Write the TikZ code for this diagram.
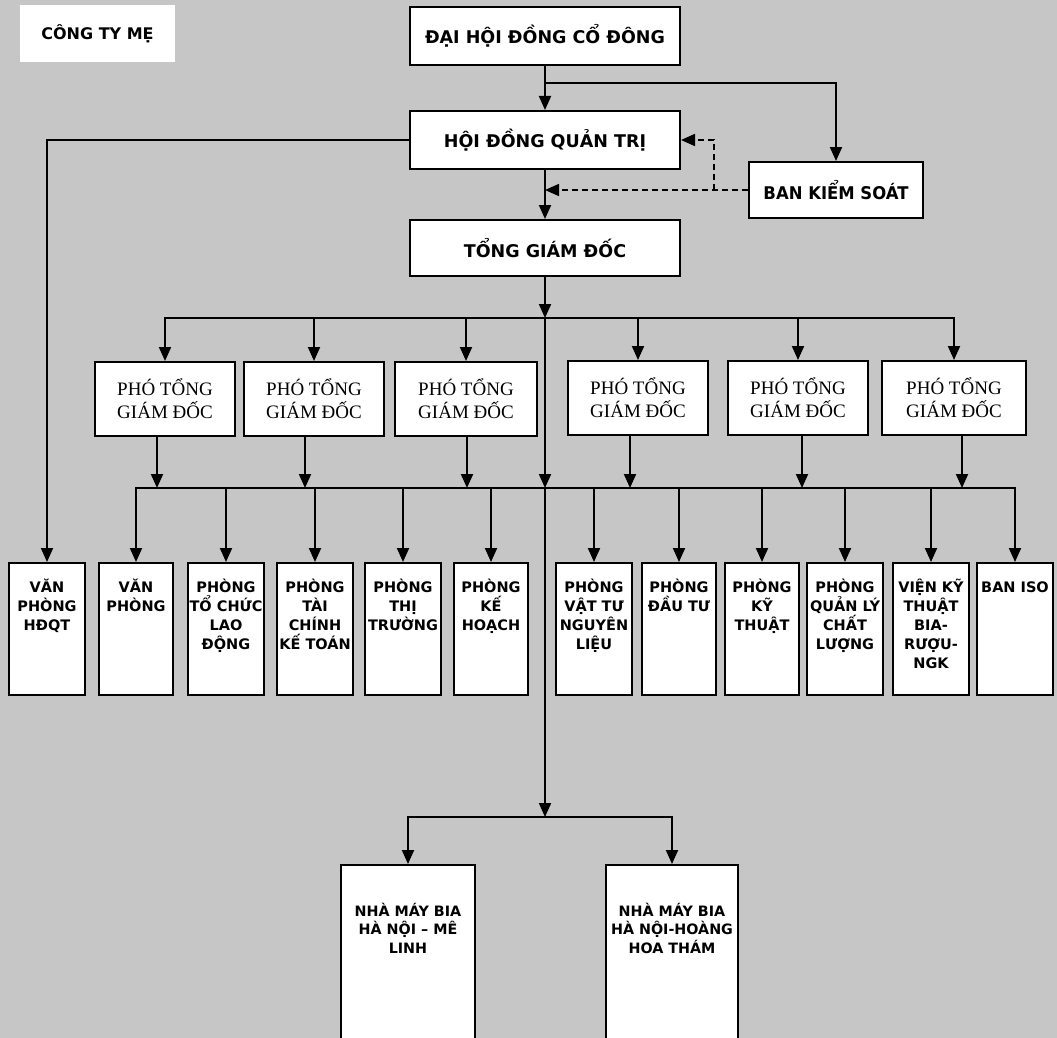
\documentclass[tikz,border=0pt]{standalone}
\usepackage{fontspec}
\setmainfont{Liberation Serif}
\newfontfamily\dvs{DejaVu Sans}
\newfontfamily\dvsn[FakeStretch=0.94]{DejaVu Sans}
\usetikzlibrary{arrows.meta}
\definecolor{bgcol}{RGB}{198,198,198}
\tikzset{
  box/.style={draw=black, line width=2pt, fill=white, inner sep=0pt},
  topbox/.style={box, font=\dvs\bfseries\fontsize{17.5}{21}\selectfont},
  ptgd/.style={box, align=center, minimum width=140pt, minimum height=74pt, font=\fontsize{19}{23}\selectfont},
  deptbox/.style={box, minimum width=76pt, minimum height=132pt},
  depttext/.style={align=center, inner sep=0pt, anchor=north, font=\dvs\bfseries\fontsize{14.5}{19}\selectfont},
  facbox/.style={box, minimum width=132pt, minimum height=180pt},
  factext/.style={align=center, inner sep=0pt, anchor=north, font=\dvs\bfseries\fontsize{14.3}{18.5}\selectfont},
  conn/.style={line width=2pt, line cap=rect},
  tip/.style={-{Triangle[width=12pt,length=14pt]}},
  arr/.style={line width=2pt, tip},
  dashln/.style={line width=1.6pt, dash pattern=on 6pt off 4pt, tip},
}
\begin{document}
\begin{tikzpicture}[x=1pt,y=-1pt]
\useasboundingbox (0,0) rectangle (1057,1038);
\clip (0,0) rectangle (1057,1038);
\fill[bgcol] (0,0) rectangle (1057,1038);

% title
\node[fill=white, inner sep=0pt, minimum width=155pt, minimum height=57pt,
      font=\dvs\bfseries\fontsize{16}{19}\selectfont] (cty) at (97.5,33.5) {CÔNG TY MẸ};

% top boxes
\node[topbox, minimum width=270pt, minimum height=58pt] (dh) at (545,36) {ĐẠI HỘI ĐỒNG CỔ ĐÔNG};
\node[topbox, minimum width=270pt, minimum height=58pt] (hdqt) at (545,140) {HỘI ĐỒNG QUẢN TRỊ};
\node[topbox, minimum width=270pt, minimum height=56pt] (tgd) at (545,248) {TỔNG GIÁM ĐỐC};
\node[box, minimum width=174pt, minimum height=56pt, font=\dvsn\bfseries\fontsize{17.5}{21}\selectfont] (bks) at (836,190) {BAN KIỂM SOÁT};

% deputy directors
\node[ptgd] (p1) at (165,399) {PHÓ TỔNG\\GIÁM ĐỐC};
\node[ptgd] (p2) at (314,399) {PHÓ TỔNG\\GIÁM ĐỐC};
\node[ptgd, minimum width=142pt] (p3) at (466,399) {PHÓ TỔNG\\GIÁM ĐỐC};
\node[ptgd] (p4) at (638,398) {PHÓ TỔNG\\GIÁM ĐỐC};
\node[ptgd] (p5) at (798,398) {PHÓ TỔNG\\GIÁM ĐỐC};
\node[ptgd, minimum width=144pt] (p6) at (954,398) {PHÓ TỔNG\\GIÁM ĐỐC};

% departments
\node[deptbox] (d1) at (47,629) {};
\node[deptbox, minimum width=74pt] (d2) at (136,629) {};
\node[deptbox] (d3) at (226,629) {};
\node[deptbox] (d4) at (315,629) {};
\node[deptbox] (d5) at (403,629) {};
\node[deptbox, minimum width=74pt] (d6) at (491,629) {};
\node[deptbox] (d7) at (594,629) {};
\node[deptbox, minimum width=74pt] (d8) at (679,629) {};
\node[deptbox, minimum width=74pt] (d9) at (762,629) {};
\node[deptbox] (d10) at (845,629) {};
\node[deptbox] (d11) at (931,629) {};
\node[deptbox] (d12) at (1015,629) {};

\node[depttext] (t1) at (47,579) {VĂN\\PHÒNG\\HĐQT};
\node[depttext] (t2) at (136,579) {VĂN\\PHÒNG};
\node[depttext] (t3) at (226,579) {PHÒNG\\TỔ CHỨC\\LAO\\ĐỘNG};
\node[depttext] (t4) at (315,579) {PHÒNG\\TÀI\\CHÍNH\\KẾ TOÁN};
\node[depttext] (t5) at (403,579) {PHÒNG\\THỊ\\TRƯỜNG};
\node[depttext] (t6) at (491,579) {PHÒNG\\KẾ\\HOẠCH};
\node[depttext] (t7) at (594,579) {PHÒNG\\VẬT TƯ\\NGUYÊN\\LIỆU};
\node[depttext] (t8) at (679,579) {PHÒNG\\ĐẦU TƯ};
\node[depttext] (t9) at (762,579) {PHÒNG\\KỸ\\THUẬT};
\node[depttext] (t10) at (845,579) {PHÒNG\\QUẢN LÝ\\CHẤT\\LƯỢNG};
\node[depttext] (t11) at (931,579) {VIỆN KỸ\\THUẬT\\BIA-\\RƯỢU-\\NGK};
\node[depttext] (t12) at (1015,579) {\vphantom{Ò}BAN ISO};

% factories
\node[facbox, minimum width=134pt] (f1) at (408,955) {};
\node[facbox] (f2) at (672,955) {};
\node[factext] (ft1) at (408,903) {NHÀ MÁY BIA\\HÀ NỘI – MÊ\\LINH};
\node[factext] (ft2) at (672,903) {NHÀ MÁY BIA\\HÀ NỘI-HOÀNG\\HOA THÁM};

% bus coordinates
\coordinate (k) at (545,83);
\coordinate (b1) at (545,318);
\coordinate (b2) at (545,488);
\coordinate (b3) at (545,817);
\coordinate (dv) at (714,190);

% top connectors
\draw[arr] (dh.south) -- (hdqt.north);
\draw[arr] (k) -| (bks.north);
\draw[arr] (hdqt.south) -- (tgd.north);
\draw[arr] (hdqt.west) -| (d1.north);
\draw[dashln] (bks.west) -- (hdqt.south |- bks.west);
\draw[dashln] (dv) -- (dv |- hdqt.east) -- (hdqt.east);

% main spine
\draw[arr] (tgd.south) -- (b1);
\draw[arr] (b1) -- (b2);
\draw[arr] (b2) -- (b3);

% bus 1
\draw[conn] (p1.north |- b1) -- (p6.north |- b1);
\foreach \i in {1,...,6} \draw[arr] (p\i.north |- b1) -- (p\i.north);

% deputies to bus 2
\draw[arr] ([xshift=-8pt]p1.south) -- ([xshift=-8pt]p1.south |- b2);
\draw[arr] ([xshift=-9pt]p2.south) -- ([xshift=-9pt]p2.south |- b2);
\draw[arr] ([xshift=1pt]p3.south) -- ([xshift=1pt]p3.south |- b2);
\draw[arr] ([xshift=-8pt]p4.south) -- ([xshift=-8pt]p4.south |- b2);
\draw[arr] ([xshift=4pt]p5.south) -- ([xshift=4pt]p5.south |- b2);
\draw[arr] ([xshift=8pt]p6.south) -- ([xshift=8pt]p6.south |- b2);

% bus 2
\draw[conn] (d2.north |- b2) -- (d12.north |- b2);
\foreach \i in {2,...,12} \draw[arr] (d\i.north |- b2) -- (d\i.north);

% bus 3
\draw[conn] (f1.north |- b3) -- (f2.north |- b3);
\draw[arr] (f1.north |- b3) -- (f1.north);
\draw[arr] (f2.north |- b3) -- (f2.north);
\end{tikzpicture}
\end{document}
